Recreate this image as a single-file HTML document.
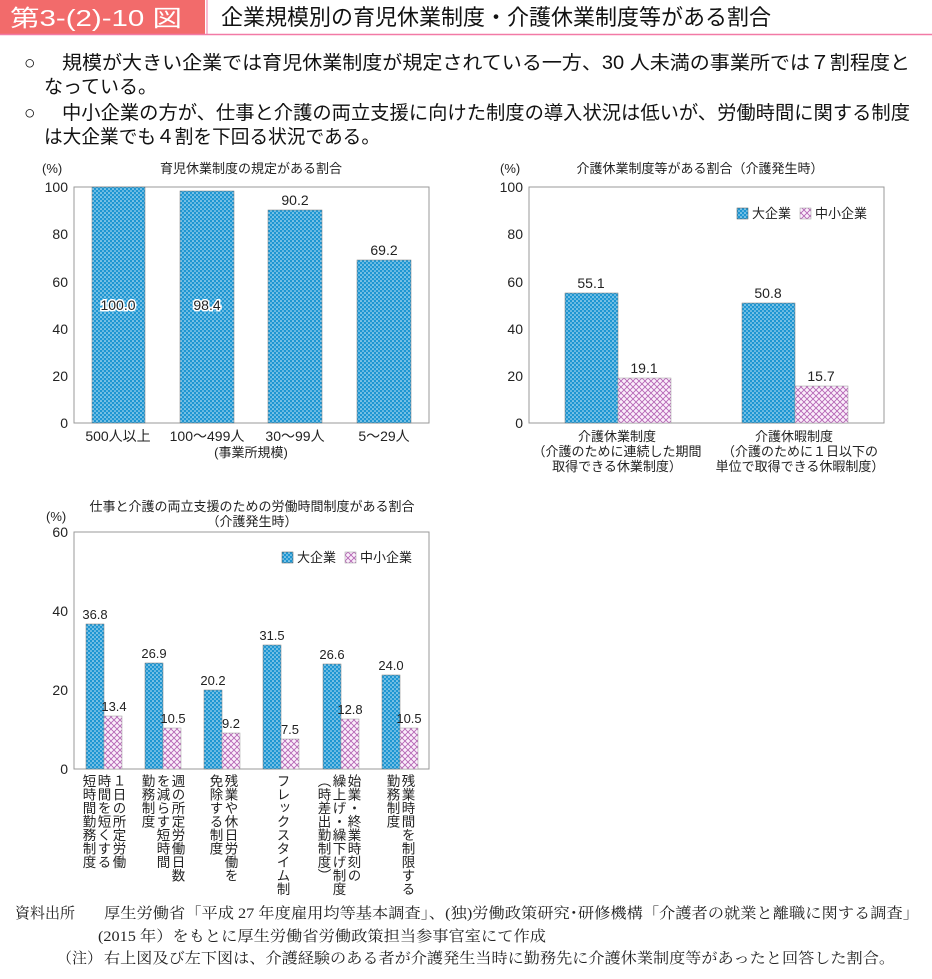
<!DOCTYPE html>
<html><head><meta charset="utf-8"><style>
body{margin:0;background:#fff;}
svg{display:block;font-family:"Liberation Sans","Noto Sans CJK JP",sans-serif;}
.v{writing-mode:vertical-rl;font-size:13.5px;fill:#222;}
.t{font-size:13px;fill:#222;}
.ax{font-size:14px;fill:#222;}
</style></head><body>
<svg width="932" height="979" viewBox="0 0 932 979" xmlns="http://www.w3.org/2000/svg">
<defs>
<pattern id="bl" width="4" height="4" patternUnits="userSpaceOnUse">
<rect width="4" height="4" fill="#1e96d2"/><circle cx="1" cy="1" r="0.8" fill="#dff2fb"/><circle cx="3" cy="3" r="0.8" fill="#bfe3f5"/>
</pattern>
<pattern id="pk" width="6" height="6" patternUnits="userSpaceOnUse">
<rect width="6" height="6" fill="#fbeefb"/><path d="M0 0L6 6M6 0L0 6" stroke="#b566b5" stroke-width="0.9"/>
</pattern>
</defs>
<!-- header -->
<rect x="0" y="0" width="205" height="34" fill="#f26b6b"/>
<text x="10" y="26" font-size="23" fill="#fff" textLength="172" lengthAdjust="spacingAndGlyphs">第3-(2)-10 図</text>
<line x1="0" y1="34.5" x2="932" y2="34.5" stroke="#f27aa6" stroke-width="1.5"/>
<line x1="207" y1="0" x2="207" y2="34" stroke="#f27aa6" stroke-width="1"/>
<text x="221" y="25" font-size="22" fill="#111" textLength="550" lengthAdjust="spacingAndGlyphs">企業規模別の育児休業制度・介護休業制度等がある割合</text>
<g font-size="19" fill="#111">
<text x="24" y="69">○</text><text x="62" y="69" textLength="848" lengthAdjust="spacingAndGlyphs">規模が大きい企業では育児休業制度が規定されている一方、30 人未満の事業所では７割程度と</text>
<text x="44" y="93">なっている。</text>
<text x="24" y="119">○</text><text x="62" y="119" textLength="848" lengthAdjust="spacingAndGlyphs">中小企業の方が、仕事と介護の両立支援に向けた制度の導入状況は低いが、労働時間に関する制度</text>
<text x="44" y="143" textLength="336" lengthAdjust="spacingAndGlyphs">は大企業でも４割を下回る状況である。</text>
</g>

<!-- chart 1 -->
<text x="42" y="173" class="t" fill="#555">(%)</text>
<text x="251" y="173" class="t" text-anchor="middle">育児休業制度の規定がある割合</text>
<rect x="74" y="187" width="355" height="236" fill="none" stroke="#999"/>
<g class="ax" text-anchor="end">
<text x="68" y="192">100</text><text x="68" y="239">80</text><text x="68" y="287">60</text><text x="68" y="334">40</text><text x="68" y="381">20</text><text x="68" y="428">0</text>
</g>
<rect x="92" y="187" width="53" height="236" fill="url(#bl)" stroke="#777" stroke-width="0.5"/>
<rect x="180" y="191" width="54" height="232" fill="url(#bl)" stroke="#777" stroke-width="0.5"/>
<rect x="268" y="210" width="54" height="213" fill="url(#bl)" stroke="#777" stroke-width="0.5"/>
<rect x="357" y="260" width="54" height="163" fill="url(#bl)" stroke="#777" stroke-width="0.5"/>
<g class="ax" text-anchor="middle" stroke="#fff" stroke-width="3" paint-order="stroke">
<text x="118" y="310">100.0</text><text x="207" y="310">98.4</text>
</g>
<g class="ax" text-anchor="middle">
<text x="295" y="205">90.2</text><text x="384" y="255">69.2</text>
<text x="118" y="441">500人以上</text><text x="207" y="441">100～499人</text><text x="295" y="441">30～99人</text><text x="384" y="441">5～29人</text>
<text x="251" y="457" font-size="13">(事業所規模)</text>
</g>

<!-- chart 2 -->
<text x="500" y="173" class="t" fill="#555">(%)</text>
<text x="700" y="173" class="t" text-anchor="middle">介護休業制度等がある割合（介護発生時）</text>
<rect x="529" y="187" width="355" height="236" fill="none" stroke="#999"/>
<g class="ax" text-anchor="end">
<text x="523" y="192">100</text><text x="523" y="239">80</text><text x="523" y="287">60</text><text x="523" y="334">40</text><text x="523" y="381">20</text><text x="523" y="428">0</text>
</g>
<rect x="565" y="293" width="53" height="130" fill="url(#bl)" stroke="#777" stroke-width="0.5"/>
<rect x="618" y="378" width="53" height="45" fill="url(#pk)" stroke="#999" stroke-width="0.5"/>
<rect x="742" y="303" width="53" height="120" fill="url(#bl)" stroke="#777" stroke-width="0.5"/>
<rect x="795" y="386" width="53" height="37" fill="url(#pk)" stroke="#999" stroke-width="0.5"/>
<g class="ax" text-anchor="middle">
<text x="591" y="288">55.1</text><text x="644" y="373">19.1</text><text x="768" y="298">50.8</text><text x="821" y="381">15.7</text>
</g>
<rect x="737" y="208" width="11" height="11" fill="url(#bl)" stroke="#555" stroke-width="0.5"/>
<text x="752" y="218" class="t">大企業</text>
<rect x="800" y="208" width="11" height="11" fill="url(#pk)" stroke="#999" stroke-width="0.5"/>
<text x="815" y="218" class="t">中小企業</text>
<g class="t" text-anchor="middle">
<text x="617" y="441">介護休業制度</text><text x="617" y="456">（介護のために連続した期間</text><text x="617" y="471">取得できる休業制度）</text>
<text x="794" y="441">介護休暇制度</text><text x="800" y="456">（介護のために１日以下の</text><text x="800" y="471">単位で取得できる休暇制度）</text>
</g>

<!-- chart 3 -->
<text x="46" y="521" class="t" fill="#555">(%)</text>
<text x="252" y="511" class="t" text-anchor="middle">仕事と介護の両立支援のための労働時間制度がある割合</text>
<text x="252" y="526" class="t" text-anchor="middle">（介護発生時）</text>
<rect x="74" y="532" width="355" height="237" fill="none" stroke="#999"/>
<g class="ax" text-anchor="end">
<text x="68" y="537">60</text><text x="68" y="616">40</text><text x="68" y="695">20</text><text x="68" y="774">0</text>
</g>
<rect x="282" y="552" width="11" height="11" fill="url(#bl)" stroke="#555" stroke-width="0.5"/>
<text x="297" y="562" class="t">大企業</text>
<rect x="345" y="552" width="11" height="11" fill="url(#pk)" stroke="#999" stroke-width="0.5"/>
<text x="360" y="562" class="t">中小企業</text>
<g stroke-width="0.5">
<rect x="86" y="624" width="18" height="145" fill="url(#bl)" stroke="#777"/><rect x="104" y="716" width="18" height="53" fill="url(#pk)" stroke="#999"/>
<rect x="145" y="663" width="18" height="106" fill="url(#bl)" stroke="#777"/><rect x="163" y="728" width="18" height="41" fill="url(#pk)" stroke="#999"/>
<rect x="204" y="690" width="18" height="79" fill="url(#bl)" stroke="#777"/><rect x="222" y="733" width="18" height="36" fill="url(#pk)" stroke="#999"/>
<rect x="263" y="645" width="18" height="124" fill="url(#bl)" stroke="#777"/><rect x="281" y="739" width="18" height="30" fill="url(#pk)" stroke="#999"/>
<rect x="323" y="664" width="18" height="105" fill="url(#bl)" stroke="#777"/><rect x="341" y="719" width="18" height="50" fill="url(#pk)" stroke="#999"/>
<rect x="382" y="675" width="18" height="94" fill="url(#bl)" stroke="#777"/><rect x="400" y="728" width="18" height="41" fill="url(#pk)" stroke="#999"/>
</g>
<g class="t" text-anchor="middle">
<text x="95" y="619">36.8</text><text x="114" y="711">13.4</text>
<text x="154" y="658">26.9</text><text x="173" y="723">10.5</text>
<text x="213" y="685">20.2</text><text x="231" y="728">9.2</text>
<text x="272" y="640">31.5</text><text x="290" y="734">7.5</text>
<text x="332" y="659">26.6</text><text x="350" y="714">12.8</text>
<text x="391" y="670">24.0</text><text x="409" y="723">10.5</text>
</g>
<g class="v">
<text x="118" y="774">１日の所定労働</text><text x="103" y="774">時間を短くする</text><text x="88" y="774">短時間勤務制度</text>
<text x="177" y="774">週の所定労働日数</text><text x="162" y="774">を減らす短時間</text><text x="147" y="774">勤務制度</text>
<text x="230" y="774">残業や休日労働を</text><text x="215" y="774">免除する制度</text>
<text x="282" y="774">フレックスタイム制</text>
<text x="353" y="774">始業・終業時刻の</text><text x="338" y="774">繰上げ・繰下げ制度</text><text x="323" y="774">（時差出勤制度）</text>
<text x="407" y="774">残業時間を制限する</text><text x="392" y="774">勤務制度</text>
</g>

<!-- notes -->
<g font-family="'Liberation Serif','Noto Serif CJK SC',serif" font-size="15" fill="#222">
<text x="15" y="918">資料出所</text>
<text x="104" y="918" textLength="815" lengthAdjust="spacingAndGlyphs">厚生労働省「平成 27 年度雇用均等基本調査」、(独)労働政策研究･研修機構「介護者の就業と離職に関する調査」</text>
<text x="98" y="941" textLength="448" lengthAdjust="spacingAndGlyphs">(2015 年）をもとに厚生労働省労働政策担当参事官室にて作成</text>
<text x="57" y="963">（注）</text>
<text x="104" y="963" textLength="791" lengthAdjust="spacingAndGlyphs">右上図及び左下図は、介護経験のある者が介護発生当時に勤務先に介護休業制度等があったと回答した割合。</text>
</g>
</svg>
</body></html>
